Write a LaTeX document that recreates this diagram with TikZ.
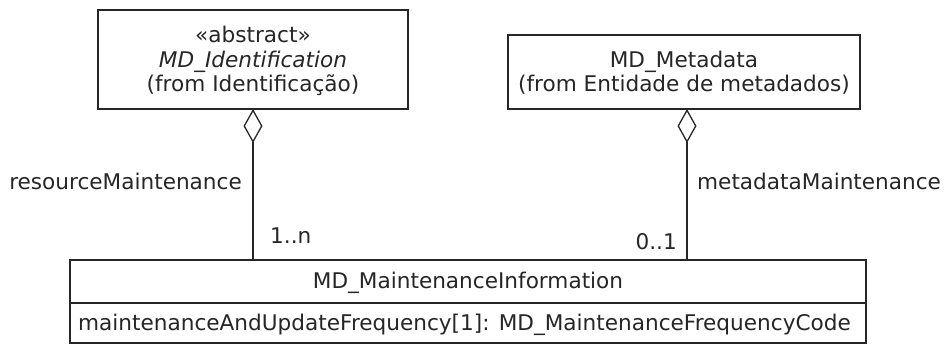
\documentclass[tikz,border=0pt]{standalone}
\usepackage{fontspec}
\setmainfont{DejaVu Sans}
\usetikzlibrary{arrows.meta}
\begin{document}
\begin{tikzpicture}[x=1pt,y=-1pt,
  box/.style={draw=black!85, line width=1.3pt, fill=white, inner sep=0pt, outer sep=0pt},
  txt/.style={inner sep=0pt, anchor=base, font=\fontsize{21.6}{25}\selectfont, text=black!85},
  lbl/.style={inner sep=0pt, font=\fontsize{21.6}{25}\selectfont, text=black!85},
  aggr/.style={draw=black!85, line width=1.3pt, -{Diamond[open, length=34pt, width=19pt, line width=1.3pt]}}]
  \useasboundingbox (0,0) rectangle (946,345);

  % class boxes
  \node[box, minimum width=310pt, minimum height=99pt] (ident) at (253,59.5) {};
  \node[box, minimum width=352pt, minimum height=74pt] (meta) at (684,72) {};
  \node[box, minimum width=796pt, minimum height=43pt] (infotitle) at (468,281.5) {};
  \node[box, minimum width=796pt, minimum height=40pt] (infoattr) at (468,323) {};

  % class texts
  \node[txt] (identster) at (253,43) {«abstract»};
  \node[txt] (identname) at (253,68) {\itshape MD\_Identification};
  \node[txt] (identpkg) at (253,92) {(from Identificação)};
  \node[txt] (metaname) at (684,67) {MD\_Metadata};
  \node[txt] (metapkg) at (684,92) {(from Entidade de metadados)};
  \node[txt] (infoname) at (468,288) {MD\_MaintenanceInformation};
  \node[txt, anchor=base west] (infoattrtext) at (78,330) {maintenanceAndUpdateFrequency[1]: MD\_MaintenanceFrequencyCode};

  % aggregations
  \coordinate (identend) at (253,260);
  \coordinate (metaend) at (687,260);
  \draw[aggr] (identend) -- (identend |- ident.south);
  \draw[aggr] (metaend) -- (metaend |- meta.south);

  % role names and multiplicities
  \node[lbl, anchor=base east] (rolea) at (242,189) {resourceMaintenance};
  \node[lbl, anchor=base west] (roleb) at (697,189) {metadataMaintenance};
  \node[lbl, anchor=base west] (multa) at (270,243) {1..n};
  \node[lbl, anchor=base east] (multb) at (677,249) {0..1};
\end{tikzpicture}
\end{document}
